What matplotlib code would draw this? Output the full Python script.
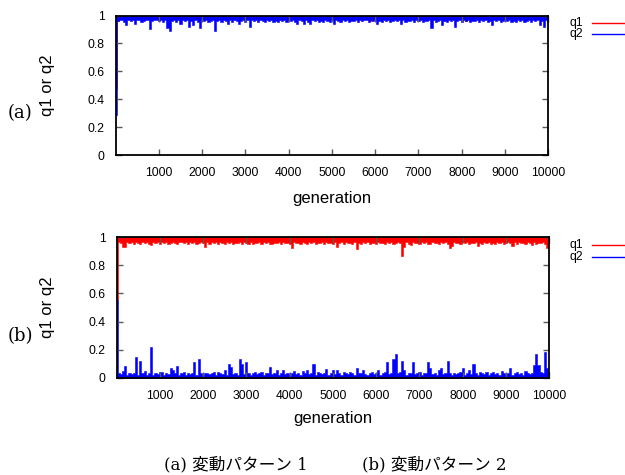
import numpy as np
import matplotlib
matplotlib.use("Agg")
import matplotlib.pyplot as plt
from matplotlib.lines import Line2D

# ---------------- data ----------------
# Each value is the extreme of the trace inside a 50-generation column:
# for q1 (and q2 in panel a) the lowest value reached, for q2 in panel b the highest.
generation = np.arange(0, 10001, 50)

q1_a = [
    0.47, 0.96, 0.985, 0.98, 0.985, 0.975, 0.985, 0.98, 0.985, 0.98,
    0.985, 0.98, 0.985, 0.975, 0.985, 0.98, 0.985, 0.98, 0.985, 0.975,
    0.98, 0.985, 0.98, 0.985, 0.98, 0.985, 0.975, 0.985, 0.98, 0.985,
    0.98, 0.985, 0.98, 0.985, 0.98, 0.975, 0.985, 0.98, 0.985, 0.98,
    0.985, 0.98, 0.985, 0.98, 0.985, 0.98, 0.985, 0.975, 0.98, 0.985,
    0.98, 0.985, 0.98, 0.985, 0.98, 0.985, 0.98, 0.985, 0.975, 0.98,
    0.985, 0.98, 0.985, 0.98, 0.985, 0.98, 0.985, 0.98, 0.985, 0.975,
    0.98, 0.985, 0.98, 0.985, 0.98, 0.985, 0.98, 0.985, 0.98, 0.985,
    0.975, 0.98, 0.985, 0.98, 0.985, 0.98, 0.985, 0.98, 0.985, 0.98,
    0.985, 0.98, 0.985, 0.975, 0.985, 0.98, 0.985, 0.98, 0.985, 0.98,
    0.98, 0.985, 0.98, 0.985, 0.98, 0.985, 0.975, 0.985, 0.98, 0.985,
    0.98, 0.985, 0.98, 0.985, 0.975, 0.985, 0.98, 0.985, 0.96, 0.985,
    0.98, 0.985, 0.98, 0.985, 0.98, 0.985, 0.98, 0.975, 0.985, 0.98,
    0.985, 0.98, 0.985, 0.98, 0.985, 0.98, 0.985, 0.98, 0.985, 0.975,
    0.98, 0.985, 0.98, 0.985, 0.98, 0.985, 0.98, 0.985, 0.98, 0.985,
    0.975, 0.985, 0.98, 0.985, 0.98, 0.985, 0.98, 0.985, 0.98, 0.985,
    0.98, 0.985, 0.96, 0.985, 0.98, 0.985, 0.98, 0.985, 0.975, 0.985,
    0.98, 0.985, 0.98, 0.985, 0.98, 0.985, 0.98, 0.985, 0.98, 0.985,
    0.975, 0.985, 0.98, 0.985, 0.98, 0.985, 0.98, 0.985, 0.98, 0.985,
    0.98, 0.985, 0.98, 0.985, 0.98, 0.985, 0.98, 0.985, 0.98, 0.985,
    0.98,
]

q2_a = [
    0.29, 0.96, 0.97, 0.965, 0.955, 0.93, 0.97, 0.96, 0.965, 0.94,
    0.965, 0.97, 0.955, 0.96, 0.965, 0.97, 0.90, 0.96, 0.965, 0.97,
    0.96, 0.965, 0.955, 0.97, 0.91, 0.89, 0.96, 0.97, 0.955, 0.965,
    0.94, 0.97, 0.96, 0.965, 0.92, 0.96, 0.93, 0.97, 0.955, 0.91,
    0.965, 0.96, 0.97, 0.955, 0.96, 0.97, 0.89, 0.96, 0.965, 0.955,
    0.97, 0.96, 0.94, 0.965, 0.955, 0.97, 0.96, 0.94, 0.96, 0.97,
    0.955, 0.965, 0.92, 0.97, 0.96, 0.965, 0.955, 0.97, 0.96, 0.95,
    0.965, 0.96, 0.97, 0.955, 0.96, 0.95, 0.97, 0.96, 0.965, 0.955,
    0.97, 0.96, 0.965, 0.955, 0.94, 0.97, 0.96, 0.94, 0.965, 0.955,
    0.94, 0.97, 0.96, 0.965, 0.95, 0.96, 0.955, 0.97, 0.96, 0.95,
    0.965, 0.94, 0.97, 0.96, 0.955, 0.965, 0.96, 0.97, 0.955, 0.96,
    0.96, 0.97, 0.955, 0.965, 0.96, 0.965, 0.97, 0.955, 0.965, 0.96,
    0.97, 0.94, 0.96, 0.955, 0.97, 0.96, 0.965, 0.955, 0.96, 0.97,
    0.96, 0.965, 0.94, 0.97, 0.955, 0.96, 0.96, 0.97, 0.955, 0.965,
    0.96, 0.97, 0.955, 0.96, 0.96, 0.97, 0.91, 0.965, 0.955, 0.96,
    0.97, 0.93, 0.96, 0.955, 0.97, 0.96, 0.965, 0.92, 0.96, 0.97,
    0.955, 0.965, 0.96, 0.97, 0.955, 0.96, 0.96, 0.97, 0.955, 0.965,
    0.96, 0.97, 0.955, 0.96, 0.93, 0.97, 0.96, 0.965, 0.955, 0.96,
    0.97, 0.96, 0.965, 0.955, 0.96, 0.95, 0.97, 0.96, 0.965, 0.955,
    0.96, 0.97, 0.955, 0.965, 0.96, 0.97, 0.93, 0.96, 0.92, 0.965,
    0.96,
]

q1_b = [
    0.55, 0.965, 0.96, 0.93, 0.93, 0.97, 0.96, 0.965, 0.955, 0.97,
    0.96, 0.955, 0.97, 0.96, 0.965, 0.955, 0.945, 0.97, 0.96, 0.965,
    0.955, 0.97, 0.96, 0.965, 0.955, 0.96, 0.97, 0.96, 0.955, 0.965,
    0.97, 0.96, 0.965, 0.955, 0.97, 0.96, 0.965, 0.955, 0.96, 0.97,
    0.96, 0.93, 0.965, 0.955, 0.97, 0.96, 0.965, 0.955, 0.97, 0.96,
    0.95, 0.965, 0.96, 0.97, 0.955, 0.96, 0.96, 0.97, 0.955, 0.965,
    0.96, 0.95, 0.97, 0.955, 0.96, 0.96, 0.97, 0.955, 0.965, 0.96,
    0.97, 0.955, 0.95, 0.96, 0.96, 0.97, 0.955, 0.965, 0.96, 0.96,
    0.955, 0.925, 0.97, 0.96, 0.96, 0.955, 0.97, 0.96, 0.95, 0.965,
    0.96, 0.97, 0.955, 0.96, 0.96, 0.965, 0.955, 0.97, 0.96, 0.96,
    0.955, 0.97, 0.93, 0.96, 0.965, 0.955, 0.97, 0.96, 0.96, 0.955,
    0.97, 0.915, 0.96, 0.955, 0.965, 0.96, 0.97, 0.955, 0.96, 0.96,
    0.95, 0.97, 0.96, 0.96, 0.955, 0.97, 0.96, 0.965, 0.955, 0.96,
    0.97, 0.96, 0.865, 0.93, 0.965, 0.955, 0.945, 0.97, 0.96, 0.96,
    0.955, 0.97, 0.96, 0.965, 0.955, 0.95, 0.97, 0.96, 0.96, 0.955,
    0.97, 0.96, 0.965, 0.955, 0.925, 0.935, 0.97, 0.96, 0.96, 0.955,
    0.965, 0.96, 0.97, 0.955, 0.96, 0.96, 0.97, 0.94, 0.96, 0.955,
    0.97, 0.96, 0.965, 0.95, 0.96, 0.955, 0.97, 0.96, 0.965, 0.955,
    0.96, 0.97, 0.96, 0.935, 0.965, 0.955, 0.97, 0.96, 0.96, 0.955,
    0.965, 0.96, 0.945, 0.97, 0.955, 0.96, 0.96, 0.97, 0.955, 0.925,
    0.96,
]

q2_b = [
    0.55, 0.03, 0.025, 0.045, 0.08, 0.02, 0.035, 0.025, 0.03, 0.15,
    0.02, 0.12, 0.03, 0.05, 0.02, 0.035, 0.22, 0.02, 0.03, 0.025,
    0.04, 0.04, 0.02, 0.035, 0.025, 0.07, 0.055, 0.03, 0.08, 0.02,
    0.03, 0.04, 0.02, 0.035, 0.025, 0.03, 0.11, 0.02, 0.13, 0.03,
    0.02, 0.035, 0.035, 0.025, 0.03, 0.04, 0.02, 0.04, 0.03, 0.025,
    0.055, 0.02, 0.10, 0.075, 0.025, 0.03, 0.02, 0.13, 0.10, 0.025,
    0.115, 0.03, 0.02, 0.035, 0.04, 0.025, 0.03, 0.04, 0.02, 0.035,
    0.03, 0.075, 0.025, 0.035, 0.055, 0.02, 0.03, 0.055, 0.025, 0.035,
    0.02, 0.03, 0.05, 0.025, 0.035, 0.02, 0.05, 0.03, 0.055, 0.025,
    0.035, 0.098, 0.02, 0.04, 0.03, 0.025, 0.035, 0.06, 0.02, 0.03,
    0.055, 0.025, 0.055, 0.03, 0.02, 0.04, 0.035, 0.025, 0.04, 0.03,
    0.02, 0.07, 0.03, 0.035, 0.055, 0.025, 0.02, 0.03, 0.04, 0.025,
    0.035, 0.055, 0.02, 0.03, 0.04, 0.11, 0.025, 0.035, 0.13, 0.168,
    0.03, 0.04, 0.12, 0.055, 0.02, 0.035, 0.03, 0.115, 0.025, 0.035,
    0.04, 0.02, 0.03, 0.035, 0.115, 0.07, 0.025, 0.03, 0.02, 0.055,
    0.07, 0.025, 0.035, 0.12, 0.03, 0.02, 0.035, 0.025, 0.03, 0.04,
    0.07, 0.02, 0.035, 0.055, 0.025, 0.10, 0.03, 0.02, 0.04, 0.035,
    0.025, 0.04, 0.02, 0.03, 0.04, 0.025, 0.035, 0.02, 0.045, 0.03,
    0.025, 0.035, 0.07, 0.02, 0.03, 0.04, 0.025, 0.035, 0.02, 0.05,
    0.03, 0.025, 0.035, 0.09, 0.168, 0.09, 0.04, 0.03, 0.18, 0.07,
    0.03,
]

x_ticks = [1000, 2000, 3000, 4000, 5000, 6000, 7000, 8000, 9000, 10000]
y_ticks = [0, 0.2, 0.4, 0.6, 0.8, 1]
y_ticklabels = ["0", "0.2", "0.4", "0.6", "0.8", "1"]
panel_labels = ["(a)", "(b)"]
series_labels = ["q1", "q2"]
caption_parts = ["(a) 変動パターン 1", "(b) 変動パターン 2"]

RED = "#ff0000"
BLUE = "#0000ff"

# ---------------- figure ----------------
W, H = 625, 475
fig = plt.figure(figsize=(W / 100, H / 100), dpi=100)
sans = "Liberation Sans"


def px(x, y):
    return x / W, 1 - y / H


def band(ax, x, vals, to, color):
    # trace envelope: from the extreme value in each column to the axis edge
    ax.fill_between(x, vals, to, step="mid", facecolor=color,
                    edgecolor=color, linewidth=0.4)


panels = [
    dict(rect=(115.5, 15.5, 548.3, 155.0), leg_y=(22.7, 34.3),
         label_y=113, xlab_y=198),
    dict(rect=(116.5, 237.3, 549.3, 377.7), leg_y=(245.0, 257.3),
         label_y=336, xlab_y=419),
]

axes = []
for p in panels:
    x0, y0, x1, y1 = p["rect"]
    axes.append(fig.add_axes([x0 / W, 1 - y1 / H, (x1 - x0) / W, (y1 - y0) / H]))

# panel (a): both near 1, q2 drawn over q1
band(axes[0], generation, q1_a, 1, RED)
band(axes[0], generation, q2_a, 1, BLUE)
# panel (b): q1 near 1, q2 near 0
band(axes[1], generation, q1_b, 1, RED)
band(axes[1], generation, q2_b, 0, BLUE)

for ax, p, plabel in zip(axes, panels, panel_labels):
    x0, y0, x1, y1 = p["rect"]
    ax.set_xlim(0, 10000)
    ax.set_ylim(0, 1)
    ax.set_xticks(x_ticks)
    ax.set_xticklabels([str(t) for t in x_ticks], fontfamily=sans, fontsize=8.7)
    ax.set_yticks(y_ticks)
    ax.set_yticklabels(y_ticklabels, fontfamily=sans, fontsize=8.7)
    ax.tick_params(direction="in", length=4, width=1.0, color="0.35",
                   top=True, right=True, pad=8)
    ax.tick_params(axis="x", pad=9)
    for s in ax.spines.values():
        s.set_linewidth(1.3)
        s.set_color("black")
        s.set_zorder(5)
    fx, fy = px((x0 + x1) / 2, p["xlab_y"])
    fig.text(fx, fy, "generation", fontfamily=sans, fontsize=12,
             ha="center", va="center")
    fx, fy = px(48, (y0 + y1) / 2)
    fig.text(fx, fy, "q1 or q2", fontfamily=sans, fontsize=12,
             ha="center", va="center", rotation=90)
    fx, fy = px(20, p["label_y"])
    fig.text(fx, fy, plabel, fontfamily="DejaVu Serif", fontsize=13,
             ha="center", va="center")
    for name, col, ly in zip(series_labels, [RED, BLUE], p["leg_y"]):
        fx, fy = px(570, ly)
        fig.text(fx, fy, name, fontfamily=sans, fontsize=8.7, ha="left", va="center")
        a, b = px(592, ly)
        c, _ = px(640, ly)
        fig.add_artist(Line2D([a, c], [b, b], color=col, lw=1.0,
                              transform=fig.transFigure))

cap_font = ["DejaVu Serif", "Noto Sans CJK JP"]
fx, fy = px(164, 465)
fig.text(fx, fy, caption_parts[0], fontfamily=cap_font, fontsize=12,
         ha="left", va="center")
fx, fy = px(507, 465)
fig.text(fx, fy, caption_parts[1], fontfamily=cap_font, fontsize=12,
         ha="right", va="center")

fig.savefig("out.png", dpi=100)
